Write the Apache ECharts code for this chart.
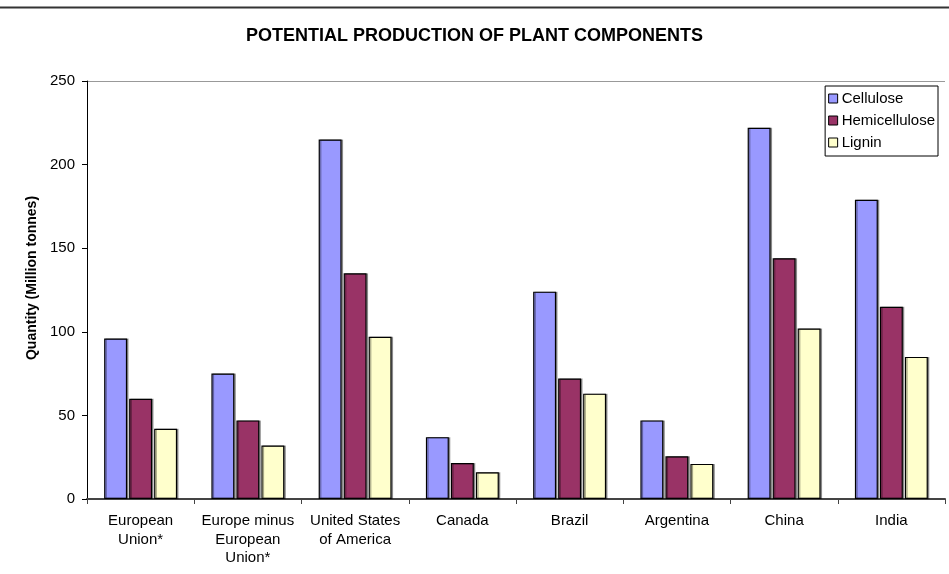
<!DOCTYPE html>
<html><head><meta charset="utf-8">
<script src="https://cdn.jsdelivr.net/npm/echarts@6/dist/echarts.min.js"></script>
<style>html,body{margin:0;padding:0;background:#fff}#c{width:949px;height:574px}</style>
</head><body><div id="c"></div>
<script>
const categories = ["European\nUnion*", "Europe minus\nEuropean\nUnion*", "United States\nof America", "Canada", "Brazil", "Argentina", "China", "India"];
const cellulose = [96, 75, 215, 37, 124, 47, 222, 179];
const hemicellulose = [60, 47, 135, 21.5, 72, 25.5, 144, 115];
const lignin = [42, 32, 97, 16, 63, 21, 102, 85];
const yTicks = [0, 50, 100, 150, 200, 250];

const font = "Liberation Sans, Arial, sans-serif";
const chart = echarts.init(document.getElementById('c'));
function ser(name, data, color) {
  return {
    name: name, type: 'bar', data: data, barGap: '9%', barCategoryGap: '32%',
    itemStyle: { color: color, borderColor: '#000', borderWidth: 1.2,
      shadowColor: 'rgba(0,0,0,0.35)', shadowOffsetX: 1.5, shadowOffsetY: 0, shadowBlur: 0 },
    emphasis: { disabled: true }
  };
}
chart.setOption({
  animation: false,
  backgroundColor: '#fff',
  title: { text: 'POTENTIAL PRODUCTION OF PLANT COMPONENTS', left: 'center', top: 22,
    textStyle: { fontFamily: font, fontSize: 18, fontWeight: 'bold', color: '#000' } },
  legend: {
    right: 11, top: 86, orient: 'vertical', itemWidth: 9, itemHeight: 9, itemGap: 5,
    padding: [4, 3, 5, 3], borderColor: '#000', borderWidth: 1, backgroundColor: '#fff',
    icon: 'rect',
    textStyle: { fontFamily: font, fontSize: 15, color: '#000', padding: [0, 0, 0, -1], lineHeight: 17 },
    itemStyle: { borderColor: '#000', borderWidth: 1, shadowBlur: 0, shadowOffsetX: 0 },
    data: ['Cellulose', 'Hemicellulose', 'Lignin']
  },
  grid: { left: 87, right: 4, top: 81, bottom: 75, containLabel: false },
  xAxis: {
    type: 'category', data: categories,
    axisLine: { lineStyle: { color: '#444', width: 2 } },
    axisTick: { show: true, length: 5, lineStyle: { color: '#444' } },
    axisLabel: { fontFamily: font, fontSize: 15, color: '#000', lineHeight: 18.5, margin: 13, interval: 0 }
  },
  yAxis: {
    type: 'value', min: 0, max: 250, interval: 50,
    name: 'Quantity (Million tonnes)', nameLocation: 'middle', nameGap: 47,
    nameTextStyle: { fontFamily: font, fontSize: 14, fontWeight: 'bold', color: '#000', padding: [0, 0, 0, 24] },
    axisLine: { show: true, lineStyle: { color: '#000', width: 1 } },
    axisTick: { show: true, length: 5, lineStyle: { color: '#000' } },
    axisLabel: { fontFamily: font, fontSize: 15, color: '#000', margin: 12,
      formatter: v => yTicks.includes(v) ? String(v) : '' },
    splitLine: { show: false }
  },
  series: [ser('Cellulose', cellulose, '#9999FF'), ser('Hemicellulose', hemicellulose, '#993366'), ser('Lignin', lignin, '#FFFFCC')],
  graphic: [
    { type: 'line', shape: { x1: 0, y1: 7.5, x2: 949, y2: 7.5 }, style: { stroke: '#333', lineWidth: 2 } },
    { type: 'line', shape: { x1: 87, y1: 81.5, x2: 945, y2: 81.5 }, style: { stroke: '#999', lineWidth: 1 } }
  ]
});
</script></body></html>
